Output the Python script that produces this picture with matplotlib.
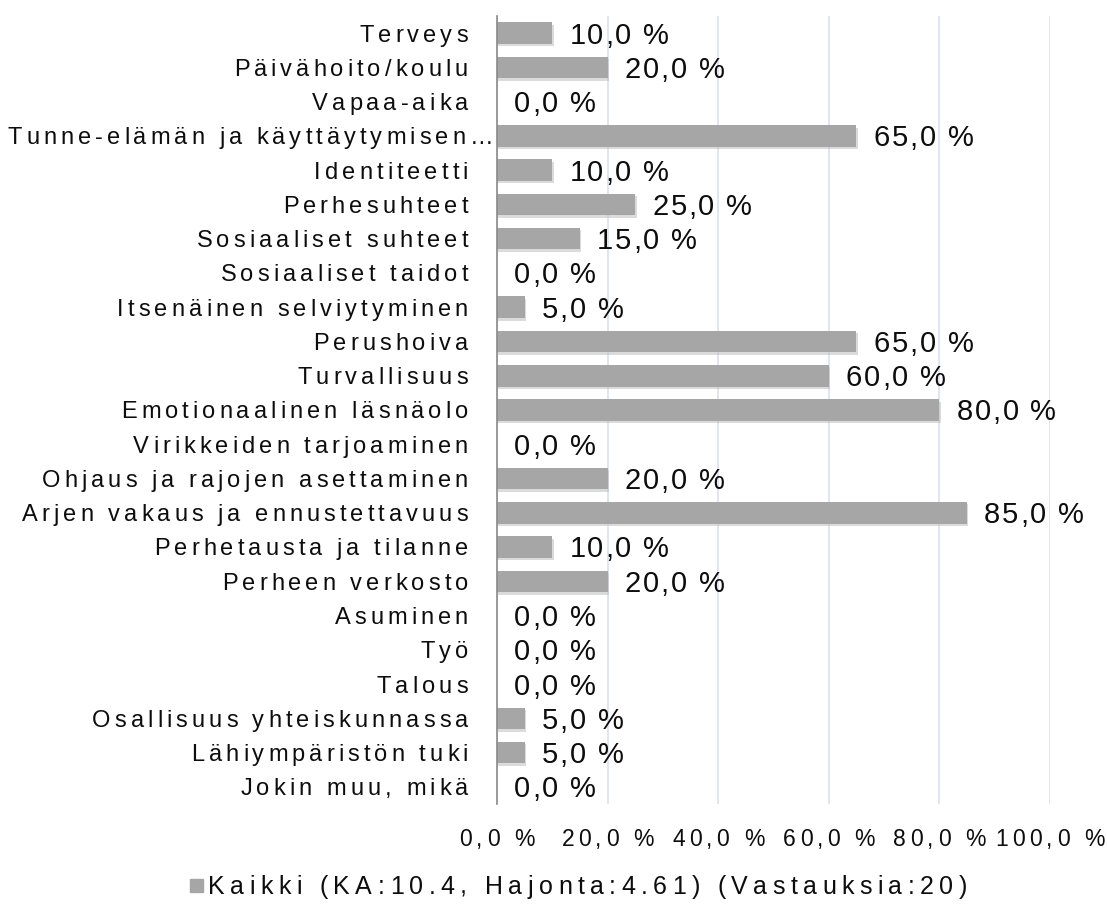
import matplotlib
matplotlib.use("Agg")
import matplotlib.pyplot as plt
import matplotlib.patheffects as pe
from matplotlib import font_manager, ft2font
from matplotlib.patches import Rectangle

categories = [
    "Terveys", "Päivähoito/koulu", "Vapaa-aika",
    "Tunne-elämän ja käyttäytymisen…", "Identiteetti", "Perhesuhteet",
    "Sosiaaliset suhteet", "Sosiaaliset taidot", "Itsenäinen selviytyminen",
    "Perushoiva", "Turvallisuus", "Emotionaalinen läsnäolo",
    "Virikkeiden tarjoaminen", "Ohjaus ja rajojen asettaminen",
    "Arjen vakaus ja ennustettavuus", "Perhetausta ja tilanne",
    "Perheen verkosto", "Asuminen", "Työ", "Talous",
    "Osallisuus yhteiskunnassa", "Lähiympäristön tuki", "Jokin muu, mikä",
]
values = [10, 20, 0, 65, 10, 25, 15, 0, 5, 65, 60, 80, 0, 20, 85, 10, 20,
          0, 0, 0, 5, 5, 0]
xticks = [0, 20, 40, 60, 80, 100]
legend_label = "Kaikki (KA:10.4, Hajonta:4.61) (Vastauksia:20)"

FAMILY = "Liberation Sans"
plt.rcParams['font.family'] = [FAMILY, 'DejaVu Sans']
DPI = 100
PT = 72 / DPI  # points per pixel

_ft = ft2font.FT2Font(font_manager.findfont(font_manager.FontProperties(family=FAMILY)))


def advances(s, size):
    # pen advance of every character, in points
    _ft.set_size(size, 72)
    return [_ft.load_char(ord(c), flags=ft2font.LoadFlags.NO_HINTING).linearHoriAdvance / 65536
            for c in s]


def tracking_for(s, size, target_px):
    # extra px between letters so that s is target_px wide (the reference is letter spaced)
    natural = sum(advances(s, size)) / PT
    return (target_px - natural) / (len(s) - 1)


def spaced(s, xy, coords, size, track_px, ha="left", dx_px=0, dy_px=0):
    adv = advances(s, size)
    track = track_px * PT
    total = sum(adv) + track * (len(s) - 1)
    cur = dx_px * PT + {"left": 0, "center": -total / 2, "right": -total}[ha]
    base = dy_px * PT - 0.358 * size  # baseline so caps sit centred on xy
    for c, a in zip(s, adv):
        if c != " ":
            ax.annotate(c, xy=xy, xycoords=coords, xytext=(cur, base),
                        textcoords="offset points", ha="left", va="baseline",
                        fontsize=size, color="#0d0d0d", annotation_clip=False)
        cur += a + track


fig = plt.figure(figsize=(11.07, 9.07), dpi=DPI)
ax = fig.add_axes([497 / 1107, 1 - 804 / 907, 553 / 1107, 788 / 907])

bar_color = "#a6a6a6"
pos = list(range(len(categories)))
bars = ax.barh(pos, values, height=0.63, color=bar_color, zorder=3)
for b in bars:
    b.set_path_effects([pe.SimplePatchShadow(offset=(1, -1.8), shadow_rgbFace="#b8b8b8", alpha=0.5),
                        pe.Normal()])

ax.set_xlim(0, 100)
ax.set_ylim(len(categories) - 0.5, -0.5)
ax.set_yticks(pos)
ax.set_yticklabels([])
ax.set_xticks(xticks)
ax.set_xticklabels([])
ax.tick_params(axis="both", length=0)
ax.set_axisbelow(True)
ax.grid(axis="x", color="#d9e1f0", linewidth=1.2)

for s in ["top", "right", "bottom"]:
    ax.spines[s].set_visible(False)
ax.spines["left"].set_color("#898989")
ax.spines["left"].set_linewidth(1.2)
ax.spines["left"].set_zorder(4)

# category labels
cat_size = 17
cat_track = tracking_for("Arjen vakaus ja ennustettavuus", cat_size, 446)
for p, lab in zip(pos, categories):
    gap = -4 if lab.endswith("…") else -29
    spaced(lab, (0, p), ax.get_yaxis_transform(), cat_size, cat_track,
           ha="right", dx_px=gap)

# value labels
val_size = 21
val_track = tracking_for("10,0 %", val_size, 100)
for p, v in zip(pos, values):
    spaced(f"{v:.1f} %".replace(".", ","), (v, p), "data", val_size, val_track,
           ha="left", dx_px=17)

# x tick labels
tick_size = 16.5
tick_track = tracking_for("0,0 %", tick_size, 75)
for t in xticks:
    spaced(f"{t:.1f} %".replace(".", ","), (t, 0), ax.get_xaxis_transform(),
           tick_size, tick_track, ha="center", dy_px=-34)

# legend
fig.add_artist(Rectangle((190 / 1107, 1 - 892 / 907), 13 / 1107, 13 / 907,
                         transform=fig.transFigure, color=bar_color))
leg_size = 18
leg_track = tracking_for(legend_label, leg_size, 759)
spaced(legend_label, (208, 907 - 885), "figure pixels", leg_size, leg_track, ha="left")

fig.savefig("out.png", dpi=DPI)
